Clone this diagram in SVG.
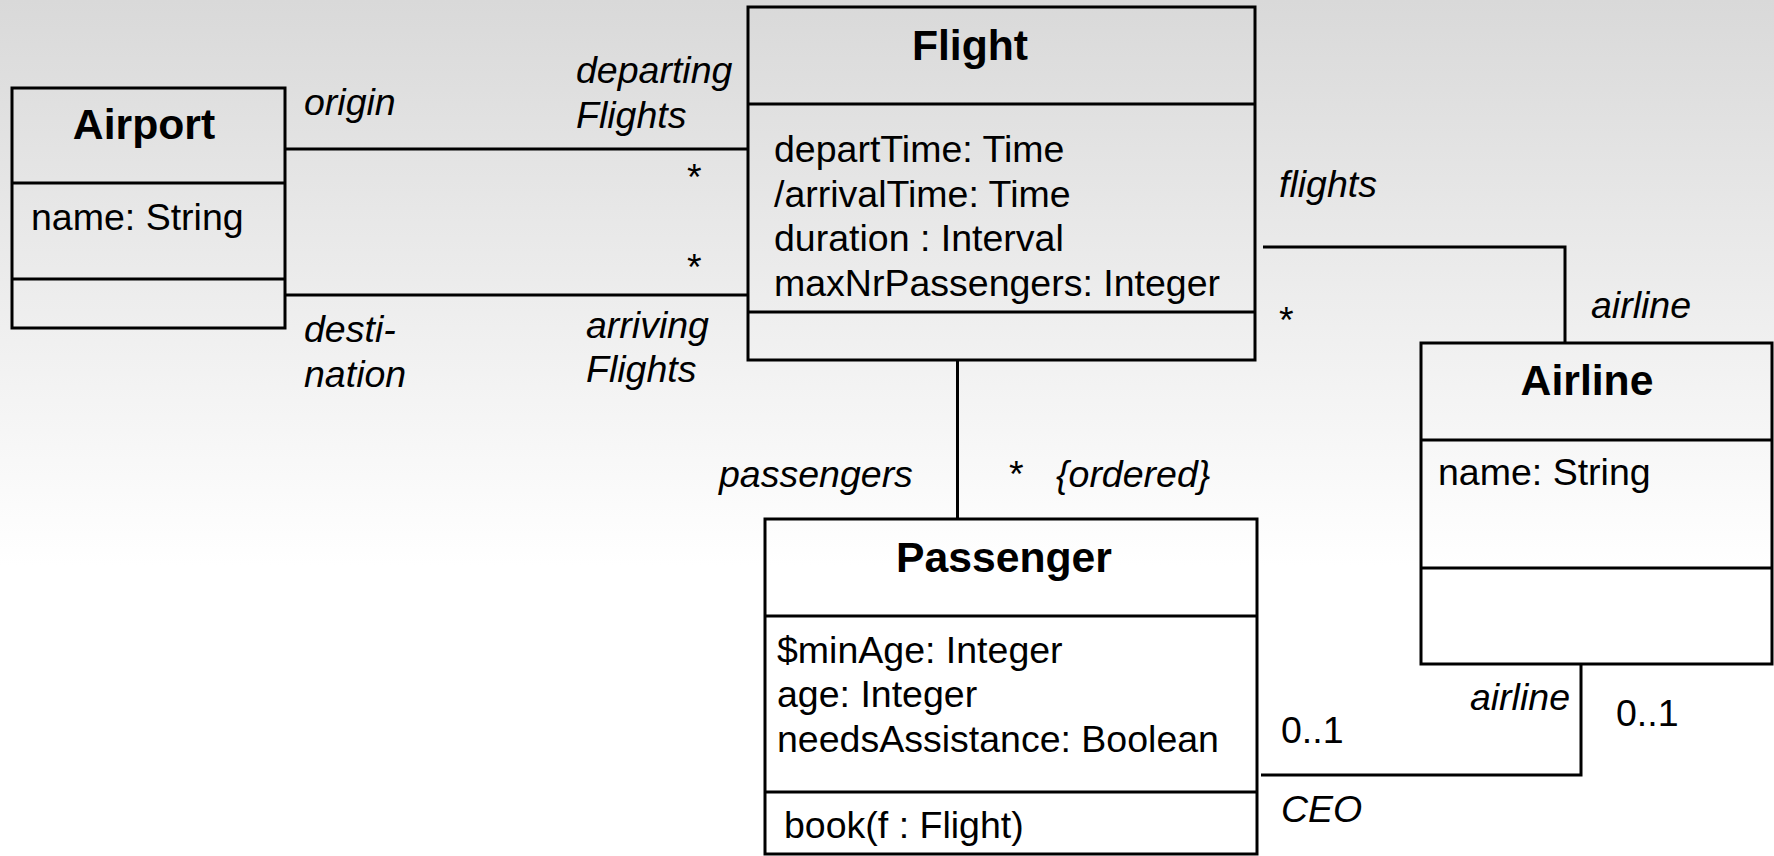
<svg xmlns="http://www.w3.org/2000/svg" width="1774" height="856" viewBox="0 0 1774 856">
<defs>
<linearGradient id="bg" x1="0" y1="0" x2="0" y2="856" gradientUnits="userSpaceOnUse">
<stop offset="0" stop-color="#d9d9d9"/>
<stop offset="0.66" stop-color="#ffffff"/>
<stop offset="1" stop-color="#ffffff"/>
</linearGradient>
</defs>
<style>
.box{fill:none;stroke:#000;stroke-width:3}
.ln{fill:none;stroke:#000;stroke-width:3}
text{font-family:"Liberation Sans",Arial,sans-serif;font-size:37.5px;fill:#000}
.t{font-weight:bold;font-size:42.7px;text-anchor:middle}
.i{font-style:italic}
</style>
<rect x="0" y="0" width="1774" height="856" fill="url(#bg)"/>
<g id="connectors">
<line class="ln" x1="285" y1="149" x2="749" y2="149"/>
<line class="ln" x1="285" y1="295" x2="749" y2="295"/>
<polyline class="ln" points="1263,247 1565,247 1565,343"/>
<line class="ln" x1="957.5" y1="360" x2="957.5" y2="519"/>
<polyline class="ln" points="1261,775 1581,775 1581,664"/>
<text class="i" x="304" y="115">origin</text>
<text class="i" x="576" y="83">departing</text>
<text class="i" x="576" y="128">Flights</text>
<text x="687" y="190">*</text>
<text x="687" y="280">*</text>
<text class="i" x="304" y="342">desti-</text>
<text class="i" x="304" y="387">nation</text>
<text class="i" x="586" y="338">arriving</text>
<text class="i" x="586" y="382">Flights</text>
<text class="i" x="1279" y="197">flights</text>
<text x="1279" y="333">*</text>
<text class="i" x="1591" y="318">airline</text>
<text class="i" x="719" y="487">passengers</text>
<text x="1009" y="487">*</text>
<text class="i" x="1056" y="487">{ordered}</text>
<text class="i" x="1570" y="710" text-anchor="end">airline</text>
<text x="1616" y="726">0..1</text>
<text x="1281" y="743">0..1</text>
<text class="i" x="1281" y="822">CEO</text>
</g>
<g id="airport">
<rect class="box" x="12" y="88" width="273" height="240"/>
<line class="ln" x1="12" y1="183" x2="285" y2="183"/>
<line class="ln" x1="12" y1="279" x2="285" y2="279"/>
<text class="t" x="144" y="139">Airport</text>
<text x="31" y="230">name: String</text>
</g>
<g id="flight">
<rect class="box" x="748" y="7" width="507" height="353"/>
<line class="ln" x1="748" y1="104" x2="1255" y2="104"/>
<line class="ln" x1="748" y1="312" x2="1255" y2="312"/>
<text class="t" x="970" y="60">Flight</text>
<text x="774" y="162">departTime: Time</text>
<text x="774" y="207">/arrivalTime: Time</text>
<text x="774" y="251">duration : Interval</text>
<text x="774" y="296">maxNrPassengers: Integer</text>
</g>
<g id="airline">
<rect class="box" x="1421" y="343" width="351" height="321"/>
<line class="ln" x1="1421" y1="440" x2="1772" y2="440"/>
<line class="ln" x1="1421" y1="568" x2="1772" y2="568"/>
<text class="t" x="1587" y="395">Airline</text>
<text x="1438" y="485">name: String</text>
</g>
<g id="passenger">
<rect class="box" x="765" y="519" width="492" height="335"/>
<line class="ln" x1="765" y1="616" x2="1257" y2="616"/>
<line class="ln" x1="765" y1="792" x2="1257" y2="792"/>
<text class="t" x="1004" y="572">Passenger</text>
<text x="777" y="663">$minAge: Integer</text>
<text x="777" y="707">age: Integer</text>
<text x="777" y="752">needsAssistance: Boolean</text>
<text x="784" y="838">book(f : Flight)</text>
</g>
</svg>
